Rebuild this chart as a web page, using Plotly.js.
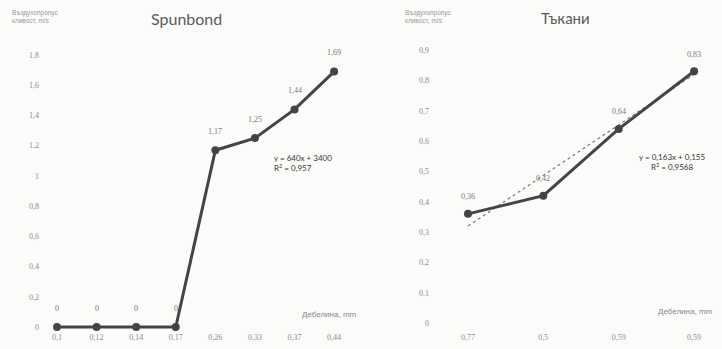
<!DOCTYPE html>
<html>
<head>
<meta charset="utf-8">
<script src="https://cdn.plot.ly/plotly-3.0.1.min.js"></script>
<style>html,body{margin:0;padding:0;background:#fbfbfa;}#chart{width:722px;height:349px;}</style>
</head>
<body>
<div id="chart"></div>
<script>
// Spunbond data
const spunCategories = ['0,1', '0,12', '0,14', '0,17', '0,26', '0,33', '0,37', '0,44'];
const spunValues = [0, 0, 0, 0, 1.17, 1.25, 1.44, 1.69];
const spunLabels = ['0', '0', '0', '0', '1,17', '1,25', '1,44', '1,69'];
// Тъкани data
const tkCategories = ['0,77', '0,5', '0,59', '0,59'];
const tkValues = [0.36, 0.42, 0.64, 0.83];
const tkLabels = ['0,36', '0,42', '0,64', '0,83'];
const tkTrendX = [1, 4];
const tkTrendY = [0.32, 0.82];

const W = 722, H = 349;
const px = x => x / W;
const py = y => 1 - y / H;

const lineColor = '#444444';
const tickFont = {family: 'Liberation Serif, serif', size: 8, color: '#8a8a8a'};
const labelFont = {family: 'Liberation Serif, serif', size: 8, color: '#777777'};

const spunIdx = spunCategories.map((_, i) => i);
const tkIdx = tkCategories.map((_, i) => i + 1);

const traces = [
  {
    x: spunIdx, y: spunValues, mode: 'lines+markers',
    line: {color: lineColor, width: 3},
    marker: {color: lineColor, size: 8},
    xaxis: 'x', yaxis: 'y', hoverinfo: 'skip', cliponaxis: false
  },
  {
    x: tkTrendX, y: tkTrendY, mode: 'lines',
    line: {color: '#777777', width: 1.2, dash: 'dot'},
    xaxis: 'x2', yaxis: 'y2', hoverinfo: 'skip'
  },
  {
    x: tkIdx, y: tkValues, mode: 'lines+markers',
    line: {color: lineColor, width: 3},
    marker: {color: lineColor, size: 8},
    xaxis: 'x2', yaxis: 'y2', hoverinfo: 'skip', cliponaxis: false
  }
];

const dataLabels = [];
spunIdx.forEach((xv, i) => dataLabels.push({
  x: xv, y: spunValues[i], xref: 'x', yref: 'y', text: spunLabels[i],
  showarrow: false, yshift: 19, font: labelFont
}));
tkIdx.forEach((xv, i) => dataLabels.push({
  x: xv, y: tkValues[i], xref: 'x2', yref: 'y2', text: tkLabels[i],
  showarrow: false, yshift: 17, font: labelFont
}));

const ydom = [py(331), py(40)];
const layout = {
  width: W, height: H,
  margin: {l: 0, r: 0, t: 0, b: 0},
  paper_bgcolor: '#fbfbfa', plot_bgcolor: '#fbfbfa',
  showlegend: false,
  separators: ', ',
  xaxis: {
    domain: [px(40), px(365)], range: [-0.43, 7.78],
    tickvals: spunIdx, ticktext: spunCategories,
    showgrid: false, zeroline: false, showline: false, ticks: '',
    tickfont: tickFont, fixedrange: true
  },
  yaxis: {
    domain: ydom, range: [-0.026, 1.899],
    tickvals: [0, 0.2, 0.4, 0.6, 0.8, 1, 1.2, 1.4, 1.6, 1.8],
    ticktext: ['0', '0,2', '0,4', '0,6', '0,8', '1', '1,2', '1,4', '1,6', '1,8'],
    showgrid: false, zeroline: false, showline: false, ticks: '',
    tickfont: tickFont, fixedrange: true
  },
  xaxis2: {
    domain: [px(430), 1], range: [0.496, 4.37],
    tickvals: tkIdx, ticktext: tkCategories,
    showgrid: false, zeroline: false, showline: false, ticks: '',
    tickfont: tickFont, fixedrange: true, anchor: 'y2'
  },
  yaxis2: {
    domain: ydom, range: [-0.026, 0.933],
    tickvals: [0, 0.1, 0.2, 0.3, 0.4, 0.5, 0.6, 0.7, 0.8, 0.9],
    ticktext: ['0', '0,1', '0,2', '0,3', '0,4', '0,5', '0,6', '0,7', '0,8', '0,9'],
    showgrid: false, zeroline: false, showline: false, ticks: '',
    tickfont: tickFont, fixedrange: true, anchor: 'x2'
  },
  annotations: dataLabels.concat([
    {text: 'Spunbond', x: px(186), y: py(18), xref: 'paper', yref: 'paper', showarrow: false,
     xanchor: 'center', yanchor: 'middle',
     font: {family: 'Lato, sans-serif', size: 16, color: '#5a5a5a'}},
    {text: 'Тъкани', x: px(565), y: py(18), xref: 'paper', yref: 'paper', showarrow: false,
     xanchor: 'center', yanchor: 'middle',
     font: {family: 'Lato, sans-serif', size: 15, color: '#5a5a5a'}},
    {text: 'Въздухопропус<br>кливост, m/s', x: px(10), y: py(7), xref: 'paper', yref: 'paper',
     xanchor: 'left', yanchor: 'top', align: 'left', showarrow: false,
     font: {family: 'Liberation Sans, sans-serif', size: 6.5, color: '#999999'}},
    {text: 'Въздухопропус<br>кливост, m/s', x: px(403), y: py(7), xref: 'paper', yref: 'paper',
     xanchor: 'left', yanchor: 'top', align: 'left', showarrow: false,
     font: {family: 'Liberation Sans, sans-serif', size: 6.5, color: '#999999'}},
    {text: 'Дебелина, mm', x: px(300), y: py(314), xref: 'paper', yref: 'paper', xanchor: 'left',
     yanchor: 'middle', showarrow: false,
     font: {family: 'Liberation Sans, sans-serif', size: 8, color: '#888888'}},
    {text: 'Дебелина, mm', x: px(656), y: py(311), xref: 'paper', yref: 'paper', xanchor: 'left',
     yanchor: 'middle', showarrow: false,
     font: {family: 'Liberation Sans, sans-serif', size: 8, color: '#888888'}},
    {text: 'y = 640x + 3400<br>R<sup>2</sup> = 0,957', x: px(272), y: py(151), xref: 'paper', yref: 'paper',
     xanchor: 'left', yanchor: 'top', align: 'left', showarrow: false,
     font: {family: 'Lato, sans-serif', size: 8, color: '#333333'}},
    {text: 'y = 0,163x + 0,155<br>R<sup>2</sup> = 0,9568', x: px(672), y: py(150), xref: 'paper', yref: 'paper',
     xanchor: 'center', yanchor: 'top', align: 'center', showarrow: false,
     font: {family: 'Lato, sans-serif', size: 8, color: '#333333'}}
  ])
};

Plotly.newPlot('chart', traces, layout, {staticPlot: true, displayModeBar: false});
</script>
</body>
</html>
